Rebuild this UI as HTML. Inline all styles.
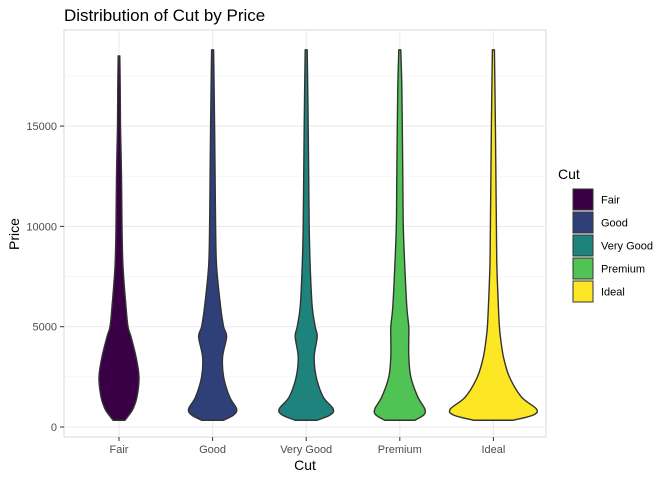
<!DOCTYPE html>
<html><head><meta charset="utf-8"><style>
body{margin:0;background:#fff;font-family:"Liberation Sans",sans-serif}
</style></head><body>
<svg id="c" width="672" height="480" xmlns="http://www.w3.org/2000/svg"></svg>
<script>
const categories=["Fair","Good","Very Good","Premium","Ideal"];
const colors=["#3a0045","#2f4079","#1f837d","#51c254","#fde725"];
const priceLevels=[337,600,900,1500,2500,3500,4500,5000,6000,8000,10000,12500,15000,17000,18700];
const fairWidths=[6,10,14,18,20,17,12,9,7,4,3,2.5,1.5,1.2,0.8];
const goodWidths=[11,21,24,17,11,10,14,11,8,4,3,2.5,2,1.5,1];
const veryGoodWidths=[11,24,27,17,10,8,11,9,6,4,3,2.5,2,1.5,1];
const premiumWidths=[15,24,25,18,11,9,9,9,7,5,3.5,3,2.5,2,1];
const idealWidths=[20,40,43,28,16,10,7,6,5,3.5,3,2.5,2,1.5,1];
const allWidths=[fairWidths,goodWidths,veryGoodWidths,premiumWidths,idealWidths];
const topPrices=[18500,18800,18800,18800,18800];
const yTicks=[0,5000,10000,15000];

const svg=document.getElementById('c');const NS="http://www.w3.org/2000/svg";
const L=64,R=546,T=30,B=437;
const y=v=>427-v*0.02006;
const x=i=>119+i*93.6;
function mk(t,a,p){const e=document.createElementNS(NS,t);for(const k in a)e.setAttribute(k,a[k]);(p||svg).appendChild(e);return e;}
const bg=mk('rect',{x:L,y:T,width:R-L,height:B-T,fill:'#fff',stroke:'#d9d9d9'});

for(let v=2500;v<20000;v+=5000){const g=mk('line',{x1:L,x2:R,y1:y(v),y2:y(v),stroke:'#f2f2f2','stroke-width':0.6});}
yTicks.forEach(v=>{const g=mk('line',{x1:L,x2:R,y1:y(v),y2:y(v),stroke:'#ebebeb','stroke-width':1.1});
const t=mk('text',{x:57,y:y(v)+4,'text-anchor':'end','font-size':11,fill:'#4d4d4d'});t.textContent=v;
mk('line',{x1:60,x2:64,y1:y(v),y2:y(v),stroke:'#333'});});
categories.forEach((c,i)=>{const g=mk('line',{x1:x(i),x2:x(i),y1:T,y2:B,stroke:'#ebebeb','stroke-width':1.1});
const t=mk('text',{x:x(i),y:453,'text-anchor':'middle','font-size':11,fill:'#4d4d4d'});t.textContent=c;
mk('line',{x1:x(i),x2:x(i),y1:437,y2:441,stroke:'#333'});});
function smooth(pts){let d='M'+pts[0][0]+','+pts[0][1];for(let i=0;i<pts.length-1;i++){const p0=pts[i-1]||pts[i],p1=pts[i],p2=pts[i+1],p3=pts[i+2]||p2;
d+=' C'+(p1[0]+(p2[0]-p0[0])/6)+','+(p1[1]+(p2[1]-p0[1])/6)+' '+(p2[0]-(p3[0]-p1[0])/6)+','+(p2[1]-(p3[1]-p1[1])/6)+' '+p2[0]+','+p2[1];}return d;}
categories.forEach((c,i)=>{const w=allWidths[i];const cx=x(i);
const lv=priceLevels.slice();lv[lv.length-1]=topPrices[i];
const right=lv.map((p,j)=>[cx+w[j],y(p)]);
const left=lv.map((p,j)=>[cx-w[j],y(p)]).reverse();
let d=smooth(right);d+=' L'+left[0][0]+','+left[0][1]+smooth(left).replace(/^M[^ ]+/,'')+' Z';
const v=mk('path',{d:d,fill:colors[i],stroke:'#333','stroke-width':1.4,'stroke-linejoin':'round'});
});
let t=mk('text',{x:64,y:21,'font-size':17,fill:'#000'});t.textContent='Distribution of Cut by Price';
t=mk('text',{x:305,y:470,'text-anchor':'middle','font-size':14,fill:'#000'});t.textContent='Cut';
t=mk('text',{x:0,y:0,'text-anchor':'middle','font-size':14,fill:'#000',transform:'translate(19,234) rotate(-90)'});t.textContent='Price';
t=mk('text',{x:558,y:179,'font-size':14,fill:'#000'});t.textContent='Cut';
categories.forEach((c,i)=>{const g=mk('g',{});
mk('rect',{x:573,y:189+i*23,width:20,height:21,fill:colors[i],stroke:'#333','stroke-width':1},g);
const tx=mk('text',{x:601,y:203.5+i*23,'font-size':11,fill:'#000'},g);tx.textContent=c;});
</script></body></html>
